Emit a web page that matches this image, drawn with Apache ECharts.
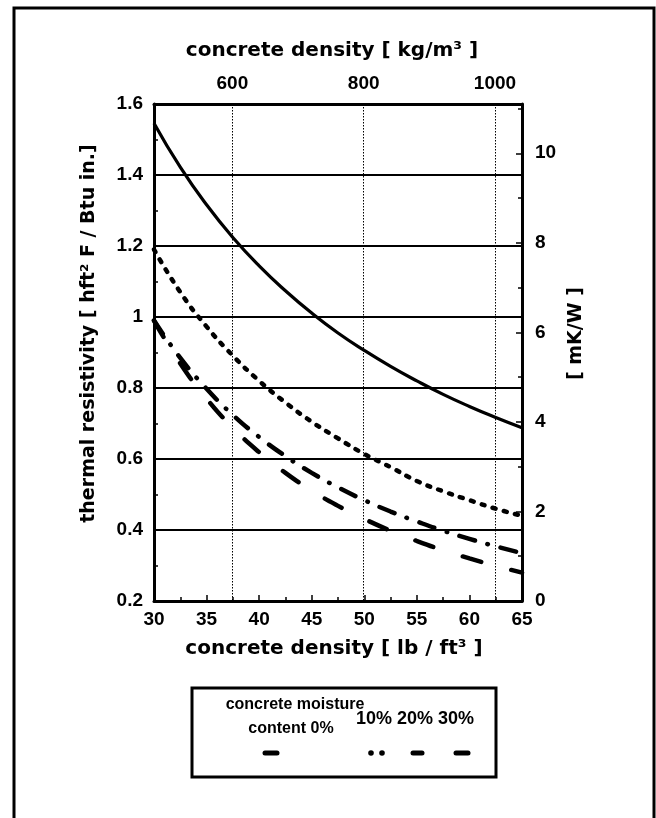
<!DOCTYPE html>
<html>
<head>
<meta charset="utf-8">
<script src="https://cdn.jsdelivr.net/npm/echarts@6/dist/echarts.min.js"></script>
<style>
  html, body { margin: 0; padding: 0; background: #fff; }
  #chart { width: 656px; height: 818px; }
</style>
</head>
<body>
<div id="chart"></div>
<script>
// ---- data ----
const densityLb = [30, 32.5, 35, 37.5, 40, 42.5, 45, 47.5, 50, 52.5, 55, 57.5, 60, 62.5, 65];
const moisture0  = [1.546, 1.422, 1.316, 1.224, 1.144, 1.074, 1.011, 0.955, 0.906, 0.861, 0.820, 0.782, 0.748, 0.717, 0.688];
const moisture10 = [1.190, 1.070, 0.973, 0.891, 0.820, 0.759, 0.705, 0.658, 0.614, 0.577, 0.538, 0.509, 0.484, 0.460, 0.440];
const moisture20 = [0.990, 0.885, 0.798, 0.724, 0.662, 0.608, 0.561, 0.520, 0.484, 0.452, 0.424, 0.398, 0.375, 0.354, 0.335];
const moisture30 = [0.990, 0.869, 0.770, 0.688, 0.619, 0.561, 0.511, 0.468, 0.431, 0.398, 0.369, 0.343, 0.320, 0.299, 0.280];
const kgTicks = [600, 800, 1000];
const kgPerLb = 16.0185;
const seriesNames = ['0%', '10%', '20%', '30%'];

const tickFont = "'Liberation Sans', Arial, sans-serif";
const nameFont = "'DejaVu Sans', sans-serif";

function pairs(vals) { return densityLb.map((d, i) => [d, vals[i]]); }

const chart = echarts.init(document.getElementById('chart'), null, { renderer: 'canvas' });

const axisLineStyle = { color: '#000', width: 3 };
const tickLabel = { color: '#000', fontFamily: tickFont, fontWeight: 'bold', fontSize: 19 };

const lineBase = { type: 'line', smooth: true, showSymbol: false, symbol: 'none', xAxisIndex: 0, yAxisIndex: 0, silent: true };

const option = {
  backgroundColor: '#fff',
  animation: false,
  grid: { left: 154, top: 104, width: 368, height: 497, containLabel: false },
  xAxis: [
    {
      type: 'value', position: 'bottom', min: 30, max: 65, interval: 5,
      axisLine: { lineStyle: axisLineStyle },
      axisTick: { inside: true, length: 6, lineStyle: { color: '#000', width: 1.5 } },
      minorTick: { show: true, splitNumber: 2, length: 4, lineStyle: { color: '#000', width: 1.5 } },
      splitLine: { show: false },
      axisLabel: Object.assign({ margin: 9 }, tickLabel),
      name: 'concrete density [ lb / ft³ ]', nameLocation: 'middle', nameGap: 38,
      nameTextStyle: { color: '#000', fontFamily: nameFont, fontWeight: 'bold', fontSize: 20, padding: [0, 8, 0, 0] }
    },
    {
      type: 'value', position: 'top', min: 30 * kgPerLb, max: 65 * kgPerLb,
      axisLine: { lineStyle: axisLineStyle },
      axisTick: { show: false, customValues: kgTicks },
      axisLabel: Object.assign({ customValues: kgTicks, margin: 11, formatter: v => String(v) }, tickLabel),
      splitLine: { show: true, lineStyle: { color: '#000', width: 1, type: [1.5, 1.5] } },
      name: 'concrete density [ kg/m³ ]', nameLocation: 'middle', nameGap: 43,
      nameTextStyle: { color: '#000', fontFamily: nameFont, fontWeight: 'bold', fontSize: 20, padding: [0, 12, 0, 0] }
    }
  ],
  yAxis: [
    {
      type: 'value', position: 'left', min: 0.2, max: 1.6, interval: 0.2,
      axisLine: { show: true, lineStyle: axisLineStyle },
      axisTick: { show: true, inside: true, length: 5, lineStyle: { color: '#000', width: 1.5 } },
      minorTick: { show: true, splitNumber: 2, length: 4, lineStyle: { color: '#000', width: 1.5 } },
      splitLine: { show: true, lineStyle: { color: '#000', width: 2 } },
      axisLabel: Object.assign({ margin: 11 }, tickLabel),
      name: 'thermal resistivity [ hft² F / Btu in.]', nameLocation: 'middle', nameGap: 55, nameRotate: 90,
      nameTextStyle: { color: '#000', fontFamily: nameFont, fontWeight: 'bold', fontSize: 19, padding: [0, 0, 0, 38] }
    },
    {
      type: 'value', position: 'right', min: 0, max: 11.1, interval: 2,
      axisLine: { show: true, lineStyle: axisLineStyle },
      axisTick: { show: true, inside: true, length: 6, lineStyle: { color: '#000', width: 1.5 } },
      minorTick: { show: true, splitNumber: 2, length: 4, lineStyle: { color: '#000', width: 1.5 } },
      splitLine: { show: false },
      axisLabel: Object.assign({ margin: 13, formatter: v => (Math.abs(v % 2) < 1e-9 ? String(v) : '') }, tickLabel),
      name: '[ mK/W ]', nameLocation: 'middle', nameGap: 44, nameRotate: 90,
      nameTextStyle: { color: '#000', fontFamily: nameFont, fontWeight: 'bold', fontSize: 19, padding: [0, 0, 0, 38] }
    }
  ],
  series: [
    Object.assign({}, lineBase, { name: seriesNames[0], data: pairs(moisture0),
      lineStyle: { color: '#000', width: 3.2, type: 'solid' } }),
    Object.assign({}, lineBase, { name: seriesNames[1], data: pairs(moisture10),
      lineStyle: { color: '#000', width: 4.5, type: [3, 8.5], cap: 'round' } }),
    Object.assign({}, lineBase, { name: seriesNames[2], data: pairs(moisture20),
      lineStyle: { color: '#000', width: 4.5, type: [16, 13, 0.5, 13], cap: 'round' } }),
    Object.assign({}, lineBase, { name: seriesNames[3], data: pairs(moisture30),
      lineStyle: { color: '#000', width: 4.5, type: [19, 31], cap: 'round' } })
  ],
  graphic: [
    { type: 'rect', silent: true, shape: { x: 14, y: 8, width: 640, height: 830 },
      style: { fill: 'none', stroke: '#000', lineWidth: 3 } },
    { type: 'rect', silent: true, shape: { x: 192, y: 688, width: 304, height: 89 },
      style: { fill: 'none', stroke: '#000', lineWidth: 3 } },
    { type: 'text', silent: true, x: 295, y: 705,
      style: { text: 'concrete moisture', fill: '#000', font: "bold 16px " + tickFont, textAlign: 'center', textVerticalAlign: 'middle' } },
    { type: 'text', silent: true, x: 291, y: 729,
      style: { text: 'content ' + seriesNames[0], fill: '#000', font: "bold 16px " + tickFont, textAlign: 'center', textVerticalAlign: 'middle' } },
    { type: 'text', silent: true, x: 356, y: 719,
      style: { text: seriesNames.slice(1).join(' '), fill: '#000', font: "bold 18px " + tickFont, textAlign: 'left', textVerticalAlign: 'middle' } },
    { type: 'line', silent: true, shape: { x1: 265, y1: 753, x2: 277, y2: 753 },
      style: { stroke: '#000', lineWidth: 5, lineCap: 'round' } },
    { type: 'circle', silent: true, shape: { cx: 371, cy: 753, r: 2.8 }, style: { fill: '#000' } },
    { type: 'circle', silent: true, shape: { cx: 382, cy: 753, r: 2.8 }, style: { fill: '#000' } },
    { type: 'line', silent: true, shape: { x1: 413, y1: 753, x2: 422, y2: 753 },
      style: { stroke: '#000', lineWidth: 5, lineCap: 'round' } },
    { type: 'line', silent: true, shape: { x1: 456, y1: 753, x2: 468, y2: 753 },
      style: { stroke: '#000', lineWidth: 5, lineCap: 'round' } }
  ]
};

chart.setOption(option);
</script>
</body>
</html>
